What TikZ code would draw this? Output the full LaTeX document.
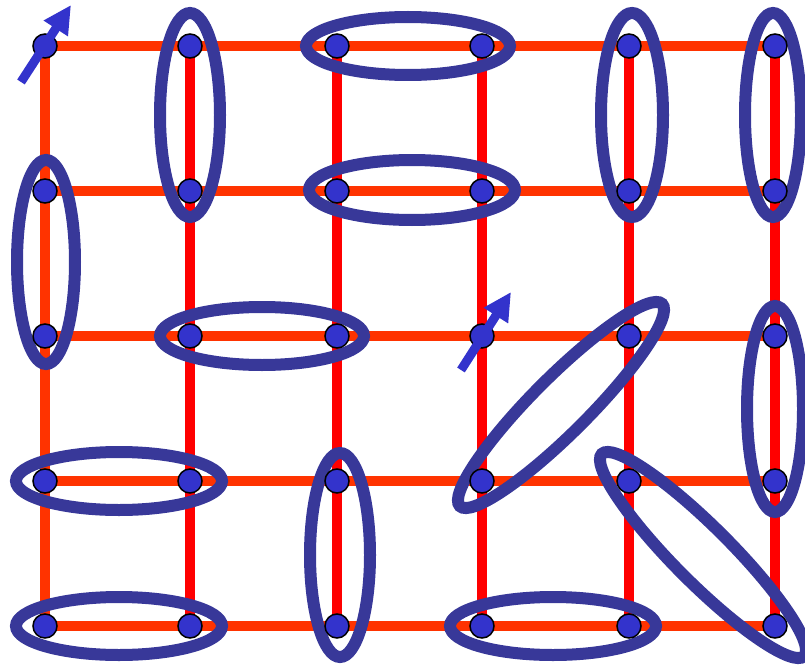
\documentclass[tikz,border=0pt]{standalone}
\usetikzlibrary{arrows.meta}
\definecolor{gridred}{HTML}{FF0000}
\definecolor{gridorange}{HTML}{FF3300}
\definecolor{sitefill}{HTML}{3333CC}
\definecolor{pairblue}{HTML}{383899}
\pgfdeclarelayer{bg}
\pgfdeclarelayer{mid}
\pgfsetlayers{bg,mid,main}
\tikzset{
  site/.style={circle, fill=sitefill, draw=black, line width=1.5pt, minimum size=24pt, inner sep=0pt},
  hbond/.style={gridorange, line width=10.5pt},
  vbond/.style={gridred, line width=10.5pt},
  pair/.style={pairblue, line width=12pt},
  spin/.style={sitefill, line width=9pt, -{Triangle[length=28pt,width=27pt]}},
}

\begin{document}
\begin{tikzpicture}[x=1pt, y=-1pt]
			\clip (0,0) rectangle (805,666);
			
			% sites, row by row
			\node[site] (s11) at (45,46) {};
			\node[site] (s12) at (190,46) {};
			\node[site] (s13) at (337,46) {};
			\node[site] (s14) at (482,46) {};
			\node[site] (s15) at (629,46) {};
			\node[site] (s16) at (775,46) {};
			
			\node[site] (s21) at (45,191) {};
			\node[site] (s22) at (190,191) {};
			\node[site] (s23) at (337,191) {};
			\node[site] (s24) at (482,191) {};
			\node[site] (s25) at (629,191) {};
			\node[site] (s26) at (775,191) {};
			
			\node[site] (s31) at (45,336) {};
			\node[site] (s32) at (190,336) {};
			\node[site] (s33) at (337,336) {};
			\node[site] (s34) at (482,336) {};
			\node[site] (s35) at (629,336) {};
			\node[site] (s36) at (775,336) {};
			
			\node[site] (s41) at (45,481) {};
			\node[site] (s42) at (190,481) {};
			\node[site] (s43) at (337,481) {};
			\node[site] (s44) at (482,481) {};
			\node[site] (s45) at (629,481) {};
			\node[site] (s46) at (775,481) {};
			
			\node[site] (s51) at (45,626) {};
			\node[site] (s52) at (190,626) {};
			\node[site] (s53) at (337,626) {};
			\node[site] (s54) at (482,626) {};
			\node[site] (s55) at (629,626) {};
			\node[site] (s56) at (775,626) {};
			
			% lattice bonds
			\begin{pgfonlayer}{bg}
			\draw[hbond] (s11.center) -- (s16.center);
			\draw[hbond] (s21.center) -- (s26.center);
			\draw[hbond] (s31.center) -- (s36.center);
			\draw[hbond] (s41.center) -- (s46.center);
			\draw[hbond] (s51.center) -- (s56.center);
			
			\draw[hbond] (s11.center) -- (s51.center);
			\draw[vbond] (s12.center) -- (s52.center);
			\draw[vbond] (s13.center) -- (s53.center);
			\draw[vbond] (s14.center) -- (s54.center);
			\draw[vbond] (s15.center) -- (s55.center);
			\draw[vbond] (s16.center) -- (s56.center);
			\end{pgfonlayer}
			
			% singlet pairs
			\begin{pgfonlayer}{mid}
			\draw[pair] (190,115) ellipse [x radius=30, y radius=102];
			\draw[pair] (408,46) ellipse [x radius=102, y radius=29];
			\draw[pair] (412,190) ellipse [x radius=103, y radius=30];
			\draw[pair] (632,115) ellipse [x radius=31, y radius=102];
			\draw[pair] (773,115) ellipse [x radius=28, y radius=102];
			\draw[pair] (46,262) ellipse [x radius=29, y radius=102];
			\draw[pair] (262,336) ellipse [x radius=102, y radius=29];
			\draw[pair, rotate around={45:(561,405)}] (561,405) ellipse [x radius=143, y radius=28];
			\draw[pair] (775,409) ellipse [x radius=28, y radius=103];
			\draw[pair] (119,481) ellipse [x radius=103, y radius=29];
			\draw[pair] (340,555) ellipse [x radius=30, y radius=102];
			\draw[pair, rotate around={-45:(703,555)}] (703,555) ellipse [x radius=143, y radius=28];
			\draw[pair] (119,626) ellipse [x radius=103, y radius=29];
			\draw[pair] (553,626) ellipse [x radius=103, y radius=29];
			\end{pgfonlayer}
			
			% free spins
			\draw[spin] ([shift={(-24,36)}]s11.center) -- ([shift={(26,-41)}]s11.center);
			\draw[spin] ([shift={(-21,34)}]s34.center) -- ([shift={(29,-44)}]s34.center);
		\end{tikzpicture}
\end{document}
